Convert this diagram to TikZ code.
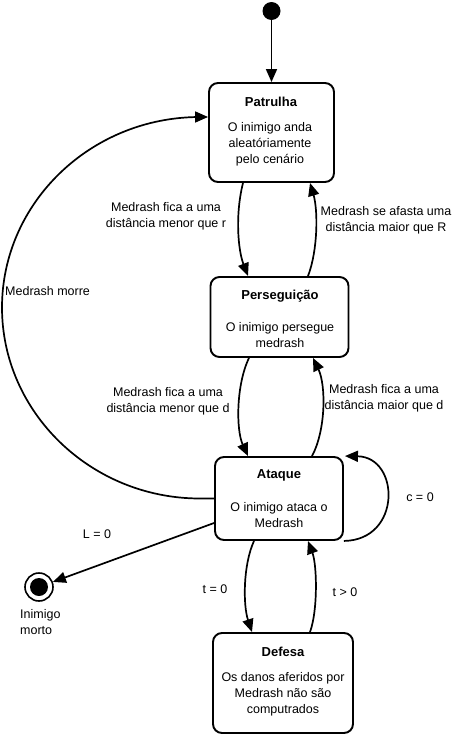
\documentclass[tikz,border=0pt]{standalone}
\usepackage{fontspec}
\setmainfont{Liberation Sans}
\usetikzlibrary{arrows.meta}
\begin{document}
\begin{tikzpicture}[x=1pt,y=-1pt,
  every node/.style={font=\fontsize{12.5}{16}\selectfont, inner sep=0pt, align=center},
  state/.style={draw, line width=1.9pt, rounded corners=9pt},
  edge/.style={line width=1.7pt, -{Triangle[length=13pt,width=11pt]}},
  title/.style={font=\fontsize{13}{16}\selectfont\bfseries}]
\useasboundingbox (0,0) rectangle (453,736);

% states
\node[state, minimum width=125pt, minimum height=99pt] (patrulha) at (271.5,132.5) {};
\node[state, minimum width=138pt, minimum height=80pt] (persegue) at (279.5,317) {};
\node[state, minimum width=128pt, minimum height=83pt] (ataque) at (279,498.5) {};
\node[state, minimum width=140pt, minimum height=100pt] (defesa) at (283,683) {};

\node[title] (tpat) at (271,102) {Patrulha};
\node (dpat) at (270,144) {O inimigo anda\\aleatóriamente\\pelo cenário};
\node[title] (tper) at (280,296) {Perseguição};
\node (dper) at (280,335) {O inimigo persegue\\medrash};
\node[title] (tata) at (279,475) {Ataque};
\node (data) at (279,515) {O inimigo ataca o\\Medrash};
\node[title] (tdef) at (283,652) {Defesa};
\node (ddef) at (283,694.5) {Os danos aferidos por\\Medrash não são\\computrados};

% initial and final
\node[circle, fill, minimum size=18pt] (init) at (271.5,11) {};
\node[circle, draw, line width=1.6pt, minimum size=28pt] (final) at (39,587) {};
\node[circle, fill, minimum size=18pt] (finaldot) at (final) {};
\node[anchor=north west, align=left] (lfinal) at (20,609) {Inimigo\\morto};

% transitions
\draw[edge] (init) -- (patrulha.north -| init);

\coordinate (a1) at ([xshift=-28.5pt]patrulha.south);
\coordinate (b1) at ([xshift=-31.5pt]persegue.north);
\draw[edge] (a1) .. controls (235,215) and (238,250) .. (b1);
\node (l1) at (166,216) {Medrash fica a uma\\distância menor que r};

\coordinate (a2) at ([xshift=28.5pt]persegue.north);
\coordinate (b2) at ([xshift=38.5pt]patrulha.south);
\draw[edge] (a2) .. controls (318,250) and (318,210) .. (b2);
\node (l2) at (386,220) {Medrash se afasta uma\\distância maior que R};

\coordinate (a3) at ([xshift=-30.5pt]persegue.south);
\coordinate (b3) at ([xshift=-31pt]ataque.north);
\draw[edge] (a3) .. controls (236,385) and (236,430) .. (b3);
\node (l3) at (168,401) {Medrash fica a uma\\distância menor que d};

\coordinate (a4) at ([xshift=33pt]ataque.north);
\coordinate (b4) at ([xshift=33.5pt]persegue.south);
\draw[edge] (a4) .. controls (326,430) and (326,385) .. (b4);
\node (l4) at (384,398.5) {Medrash fica a uma\\distância maior que d};

\coordinate (a5) at (ataque.south east);
\coordinate (b5) at ([xshift=1pt]ataque.north east);
\draw[edge] (a5) .. controls (402,540) and (400,457) .. (b5);
\node (l5) at (420,497) {c = 0};

\coordinate (b6) at ([yshift=15.5pt]patrulha.west);
\draw[edge] (ataque.west) -- (200,498.5)
  .. controls (90.6,498.5) and (2,412) .. (2,307.5)
  .. controls (2,203) and (90.6,117) .. (200,117) -- (b6);
\node[anchor=west] (l6) at (5,291) {Medrash morre};

\coordinate (a7) at ([yshift=-24.5pt]ataque.west);
\draw[edge] (a7) -- (final);
\node (l7) at (97,534) {L = 0};

\coordinate (a8) at ([xshift=-25pt]ataque.south);
\coordinate (b8) at ([xshift=-31pt]defesa.north);
\draw[edge] (a8) .. controls (243,565) and (243,605) .. (b8);
\node (l8) at (215,589) {t = 0};

\coordinate (a9) at ([xshift=27pt]defesa.north);
\coordinate (b9) at ([xshift=29pt]ataque.south);
\draw[edge] (a9) .. controls (318,610) and (317,565) .. (b9);
\node (l9) at (345,592) {t > 0};
\end{tikzpicture}
\end{document}
